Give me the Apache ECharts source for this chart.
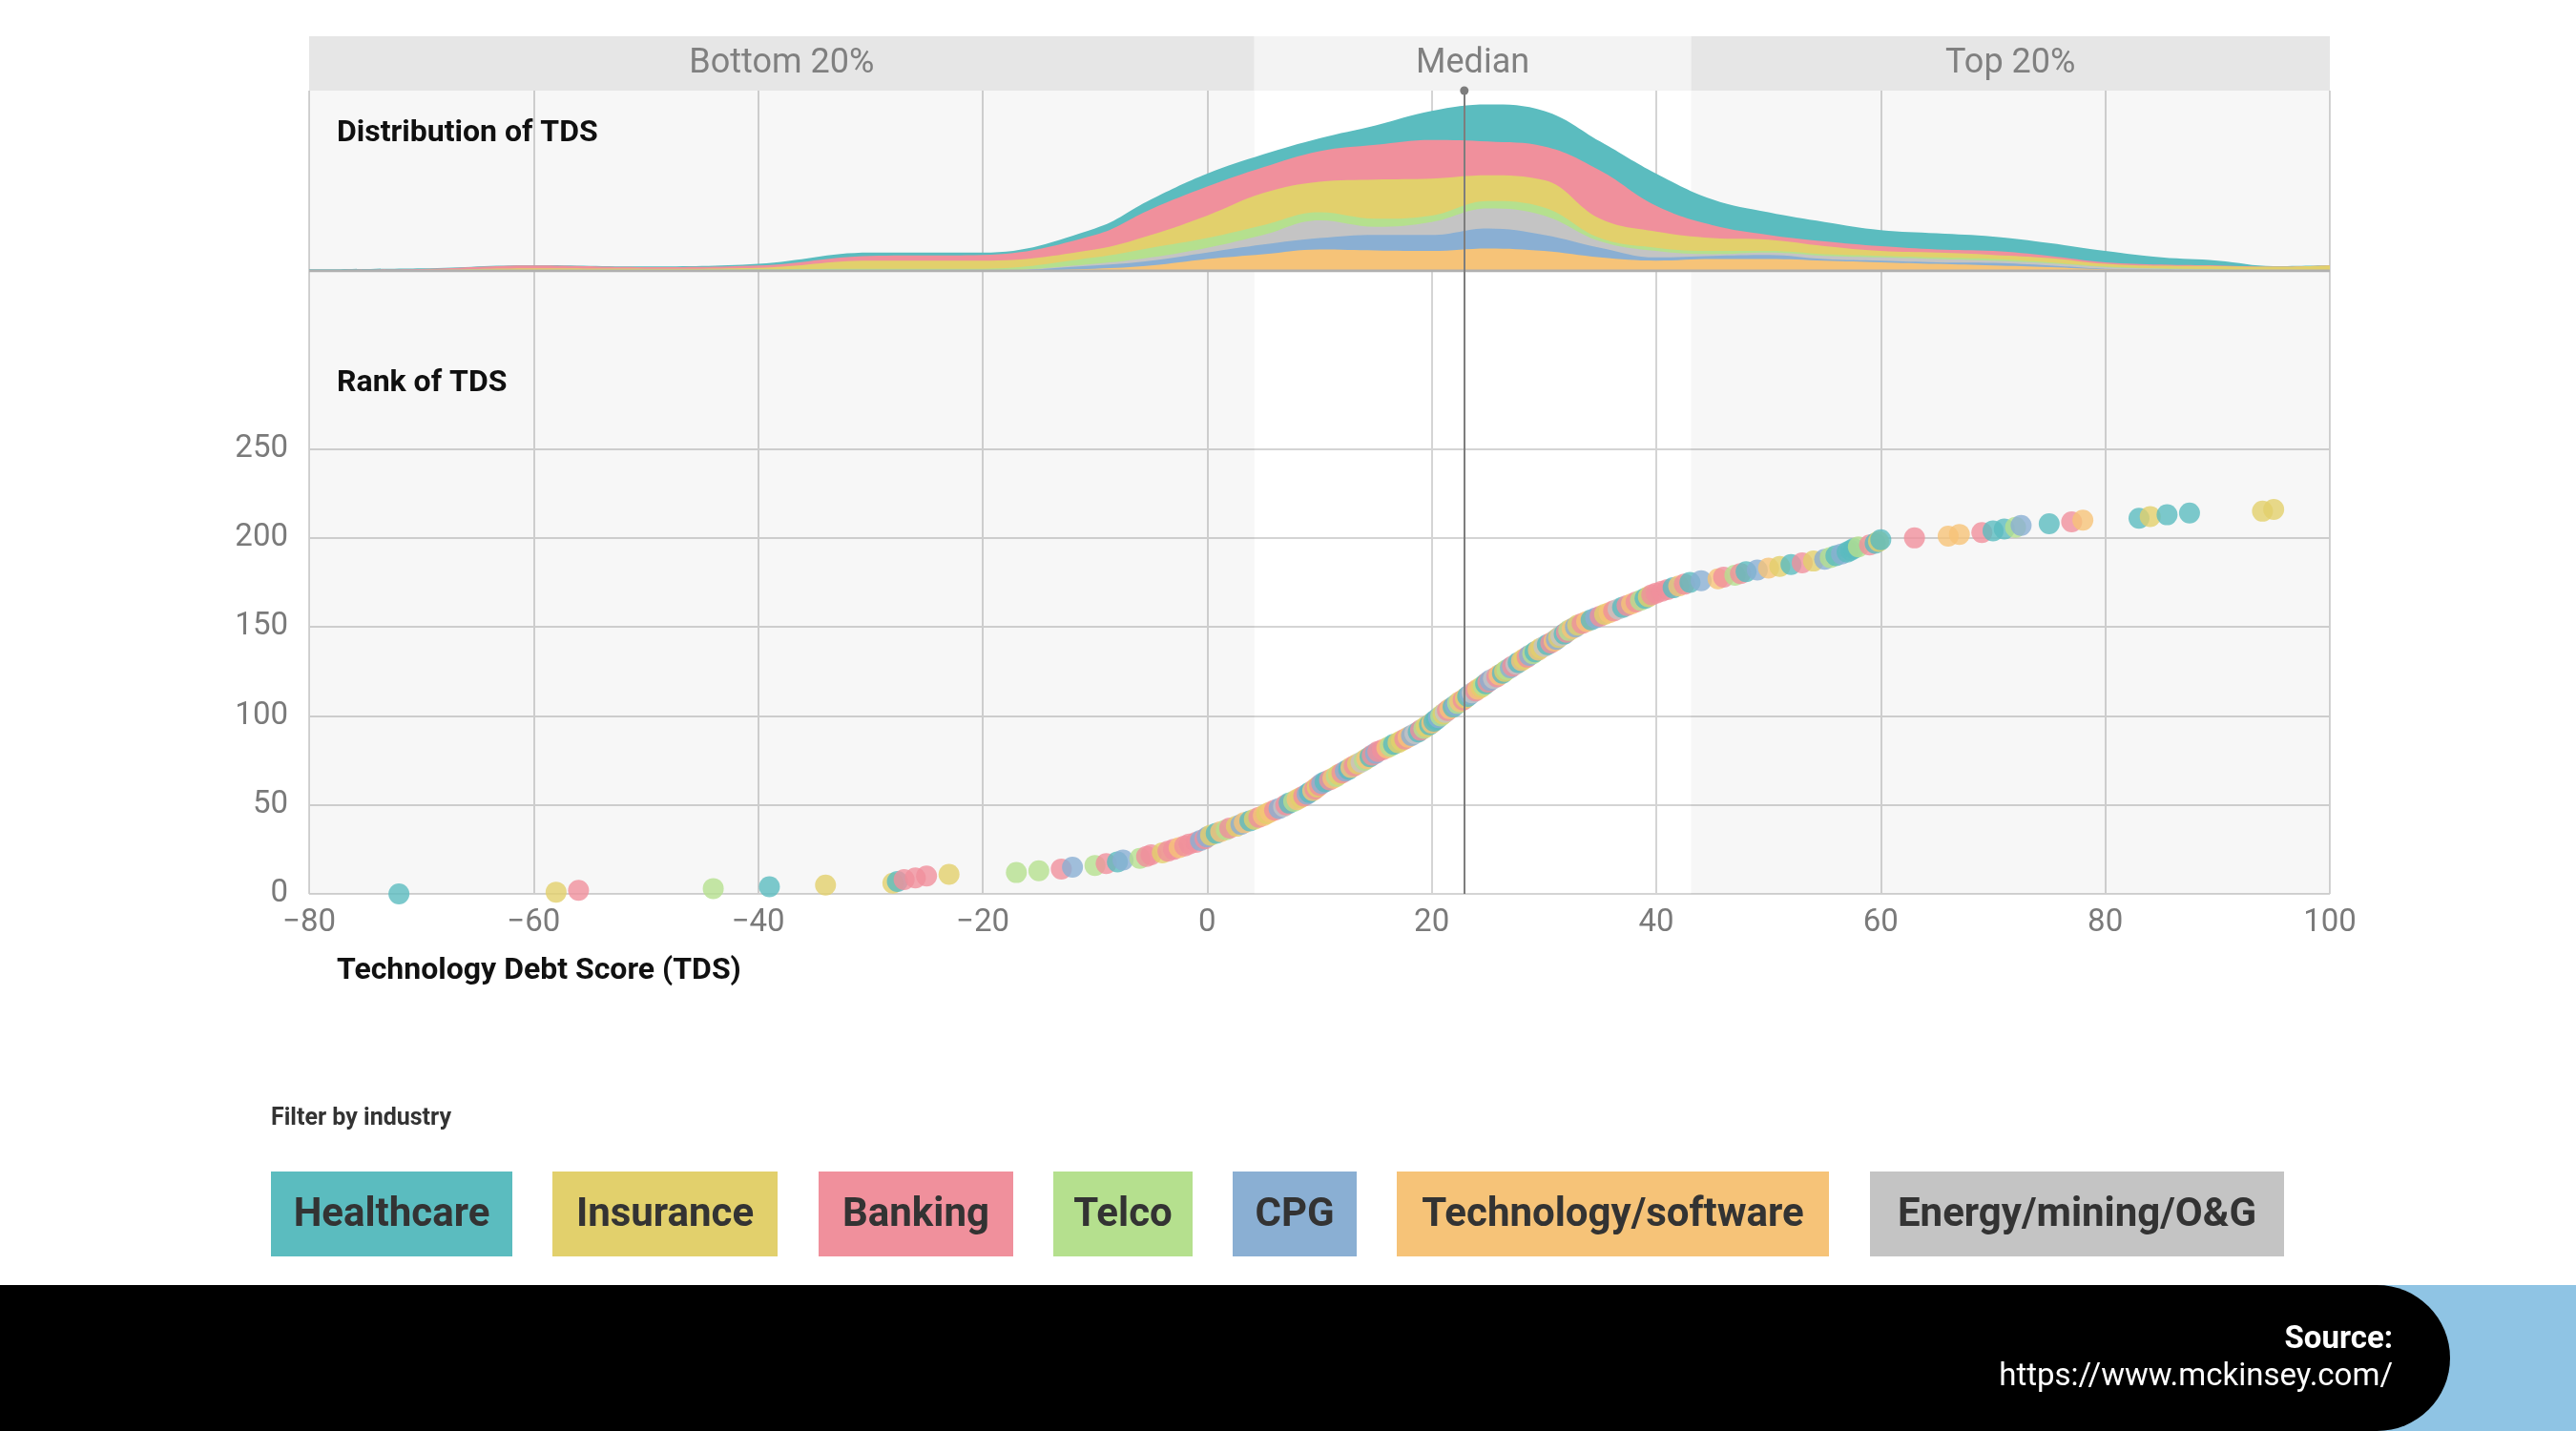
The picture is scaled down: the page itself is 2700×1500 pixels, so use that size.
<!DOCTYPE html>
<html><head><meta charset="utf-8">
<script src="https://cdn.jsdelivr.net/npm/echarts@6/dist/echarts.min.js"></script>
<style>html,body{margin:0;padding:0;background:#fff}#c{width:2700px;height:1500px}</style>
</head><body><div id="c"></div>
<script>
const industries = ['Healthcare','Insurance','Banking','Telco','CPG','Technology/software','Energy/mining/O&G'];
const codes = {H:'Healthcare',I:'Insurance',B:'Banking',T:'Telco',C:'CPG',S:'Technology/software',E:'Energy/mining/O&G'};
const colors = {'Healthcare':'#5bbcbf','Insurance':'#e2d06c','Banking':'#f0909c','Telco':'#b5e08e','CPG':'#8aafd3','Technology/software':'#f6c378','Energy/mining/O&G':'#c4c4c4'};
const xTicks = [-80,-60,-40,-20,0,20,40,60,80,100];
const yTicks = [0,50,100,150,200,250];
const bands = [['Bottom 20%',-80,4.2],['Median',4.2,43.1],['Top 20%',43.1,100]];
const medianTDS = 22.9;

// distribution (stack thickness per industry)
const distX = [-80,-70,-60,-50,-40,-30,-20,-10,-5,0,5,10,15,20,25,30,35,40,45,50,55,60,65,70,75,80,85,90,95,100];
const distTech   = [0,0,0,0,0,0,0,7,17,37,52,67,64,62,70,62,42,32,37,37,32,27,22,17,12,5,3,2,1,1];
const distCPG    = [0,0,0,0,0,0,0,10,15,20,30,35,48,50,62,50,30,10,10,13,5,5,5,8,5,2,1,1,0,0];
const distEnergy = [0,0,0,0,0,0,0,5,10,15,30,55,25,40,62,60,20,20,5,7,10,10,10,7,7,5,3,1,0,0];
const distTelco  = [0,0,0,1,5,7,7,20,30,30,30,25,25,20,23,25,10,10,10,5,5,5,5,5,3,2,1,1,0,0];
const distIns    = [2,3,8,6,5,25,25,25,40,70,100,95,122,115,80,85,60,50,40,35,25,15,15,13,13,8,8,10,12,16];
const distBank   = [1,3,9,5,7,15,18,45,80,90,80,95,108,120,105,105,150,80,40,15,15,15,10,12,7,5,4,2,0,0];
const distHealth = [2,2,1,2,5,10,7,20,30,40,40,40,60,90,115,110,90,100,80,70,60,50,50,45,40,35,22,15,2,1];

// rank scatter
const tds = [-72,-58,-56,-44,-39,-34,-28,-27.6,-27,-26,-25,-23,-17,-15,-13,-12,-10,
 -9,-8,-7.5,-6,-5.4,-5,-4,-3.5,-3,-2.5,-2,-1.6,-1,-0.6,-0.2,
 0,0.3,0.8,1.2,1.7,2,2.6,3,3.3,3.8,4.2,4.6,5,
 5.3,5.6,6,6.4,6.8,7,7.3,7.7,8,8.3,8.6,8.9,9.1,9.4,9.6,9.8,10,
 10.2,10.5,10.9,11.2,11.5,11.7,12,12.3,12.6,12.8,13.1,13.4,13.7,14,14.2,14.5,14.7,15,
 15.2,15.6,16,16.3,16.6,17,17.3,17.6,17.9,18.2,18.5,18.8,19,19.3,19.5,19.8,20,
 20.2,20.4,20.6,20.8,21,21.2,21.4,21.6,21.9,22.1,22.3,22.5,22.8,23,23.2,23.4,23.6,23.9,24.1,24.4,24.6,24.8,25,
 25.2,25.5,25.8,26,26.3,26.5,26.7,27,27.2,27.5,27.7,28,28.2,28.5,28.7,29,29.2,29.5,29.7,30,
 30.3,30.6,30.9,31.1,31.3,31.5,31.8,32,32.2,32.5,32.8,33,
 33.4,33.8,34.2,34.6,35,35.4,35.8,36.2,36.6,37,
 37.4,37.8,38.2,38.6,39,39.3,39.6,40,
 40.5,41,41.5,42,42.5, 43,44,45.5,46,47, 47.5,48,49,50,51,52, 53,54,55,55.5,56,56.5,
 57,57.3,57.6,58,59,59.5,59.8,60,
 63,66,67,69,70,71,72,72.5,75,77,78,83,84,85.5,87.5,94,95];
const industryCodes = "HIBTHIIHBBBITTBCT"+"BHCTBBIBBSBBBCB"+"CIHSTBICSHIBS"+"ISBCEBHTSIBCHSBIB"+"CHBSTIBCHSBIETSHBC"+
 "BBSTHIIBSCEHBTIHS"+"HHCTIEBSHCTSBIHCEBSITHB"+"CEBSHITCBEHSIBCTHSIE"+"HBSCIEHBTSCI"+"BSHCBISBEH"+"BSBTHIBB"+
 "BBHSB"+"HCSBT"+"BHCSIH"+"BICTHC"+"HHHTBHIH"+"BSSBHHTCHBSHIHHII";

const chart = echarts.init(document.getElementById('c'));
const FONT = 'Roboto';
const stackDefs = [['Technology/software',distTech],['CPG',distCPG],['Energy/mining/O&G',distEnergy],['Telco',distTelco],['Insurance',distIns],['Banking',distBank],['Healthcare',distHealth]];
// cumulative tops, drawn from the top layer down so lower layers paint over
let cum = distX.map(()=>0);
const cumLayers = stackDefs.map(([name,arr])=>{cum = cum.map((v,i)=>v+arr[i]); return [name,cum.slice()];});
const distSeries = cumLayers.slice().reverse().map(([name,arr],k) => ({
  type:'line', name, xAxisIndex:1, yAxisIndex:1, smooth:0.4, symbol:'none',
  lineStyle:{width:0}, areaStyle:{color:colors[name],opacity:1},
  data: distX.map((x,i)=>[x,arr[i]]), z:3+k*0.01
}));
const scatterData = tds.map((x,i)=>{const ind=codes[industryCodes[i]];return {value:[x,i],itemStyle:{color:colors[ind]}};});
const bgAreas = [[{xAxis:-80},{xAxis:4.2}],[{xAxis:43.1},{xAxis:100}]];
const xAxisBase = (gi,showLabels)=>({type:'value',gridIndex:gi,min:-80,max:100,interval:20,
  axisLine:{show:false},axisTick:{show:false},
  axisLabel:{show:showLabels,color:'#7a7a7a',fontSize:33,fontFamily:FONT,margin:14,formatter:v=>v<0?'\u2212'+(-v):''+v},
  splitLine:{show:gi>0,lineStyle:{color:'#d4d4d4',width:2}}});
chart.setOption({
  animation:false,
  grid:[
    {left:324,right:258,top:38,height:57},
    {left:324,right:258,top:95,height:189},
    {left:324,right:258,top:284,height:653}
  ],
  xAxis:[xAxisBase(0,false),xAxisBase(1,false),xAxisBase(2,true)],
  yAxis:[
    {type:'value',gridIndex:0,min:0,max:1,show:false},
    {type:'value',gridIndex:1,min:0,max:560,show:false},
    {type:'value',gridIndex:2,min:0,max:350,interval:50,axisLine:{show:false},axisTick:{show:false},
     axisLabel:{color:'#7a7a7a',fontSize:33,fontFamily:FONT,margin:22,formatter:v=>v<=250?''+v:''},
     splitLine:{lineStyle:{color:['#d4d4d4','#d4d4d4','#d4d4d4','#d4d4d4','#d4d4d4','#d4d4d4','rgba(0,0,0,0)','rgba(0,0,0,0)'],width:2}}}
  ],
  series:[
    {type:'line',xAxisIndex:0,yAxisIndex:0,data:[],silent:true,
     markArea:{silent:true,data:bands.map(([n,a,b])=>[{xAxis:a,yAxis:0,name:n,itemStyle:{color:n==='Median'?'#f3f3f3':'#e6e6e6'}},{xAxis:b,yAxis:1}]),
      label:{show:true,position:'inside',color:'#808080',fontSize:36,fontFamily:FONT}}},
    {type:'line',xAxisIndex:1,yAxisIndex:1,data:[],silent:true,z:1,
     markArea:{silent:true,itemStyle:{color:'rgba(0,0,0,0.03)'},data:bgAreas}},
    ...distSeries,
    {type:'line',xAxisIndex:1,yAxisIndex:1,data:[[-80,0],[100,0]],symbol:'none',lineStyle:{color:'#b0b0b0',width:3},z:4,
     markLine:{silent:true,symbol:['none','circle'],symbolSize:9,label:{show:false},lineStyle:{color:'#7d7d7d',width:2,type:'solid'},data:[{xAxis:medianTDS}]}},
    {type:'scatter',xAxisIndex:2,yAxisIndex:2,symbolSize:22,data:scatterData,z:3,
     markArea:{silent:true,itemStyle:{color:'rgba(0,0,0,0.03)'},data:bgAreas},
     markLine:{silent:true,symbol:'none',label:{show:false},lineStyle:{color:'#7d7d7d',width:2,type:'solid'},data:[{xAxis:medianTDS}]}}
  ],
  graphic:[
    {type:'text',left:353,top:124,style:{text:'Distribution of TDS',font:'bold 32px '+FONT,fill:'#111'}},
    {type:'text',left:353,top:386,style:{text:'Rank of TDS',font:'bold 32px '+FONT,fill:'#111'}},
    {type:'text',left:353,top:1002,style:{text:'Technology Debt Score (TDS)',font:'bold 32px '+FONT,fill:'#111'}},
    {type:'text',left:284,top:1160,style:{text:'Filter by industry',font:'bold 25px '+FONT,fill:'#333'}},
    ...[[284,537],[579,815],[858,1062],[1104,1250],[1292,1422],[1464,1917],[1960,2394]].map(([a,b],i)=>({
      type:'group',left:a,top:1228,children:[
        {type:'rect',shape:{x:0,y:0,width:b-a,height:89},style:{fill:colors[industries[i]]}},
        {type:'text',x:(b-a)/2,y:46,style:{text:industries[i],font:'bold 42px '+FONT,fill:'#333',align:'center',verticalAlign:'middle'}}
      ]})),
    {type:'rect',left:2440,top:1347,shape:{width:260,height:153},style:{fill:'#8fc4e4'}},
    {type:'rect',left:0,top:1347,shape:{width:2568,height:153,r:[0,80,80,0]},style:{fill:'#000'}},
    {type:'text',right:192,top:1388,style:{text:'Source:',font:'bold 33px '+FONT,fill:'#fff',align:'right'}},
    {type:'text',right:192,top:1427,style:{text:'https://www.mckinsey.com/',font:'33px '+FONT,fill:'#fff',align:'right'}}
  ]
});
</script></body></html>
